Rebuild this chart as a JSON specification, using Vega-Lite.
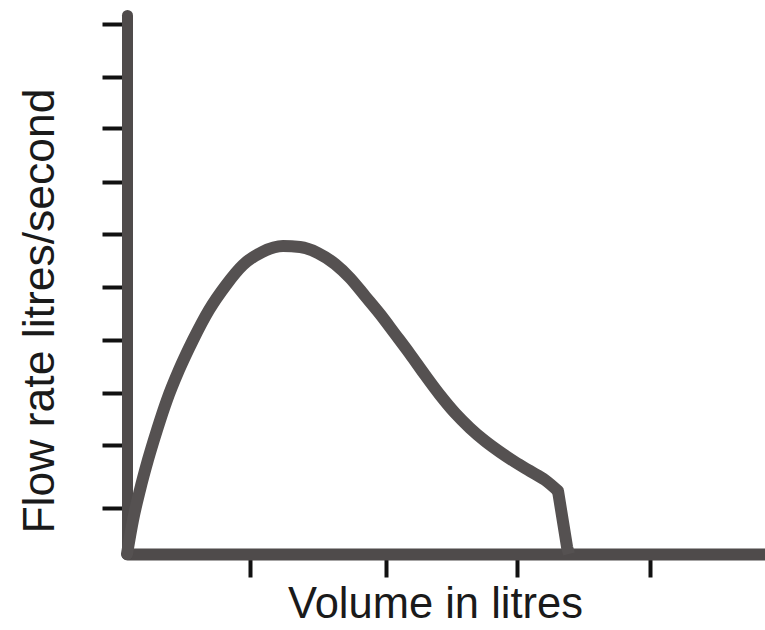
{
  "$schema": "https://vega.github.io/schema/vega-lite/v6.json",
  "width": 638,
  "height": 539,
  "autosize": {"type": "none"},
  "padding": {"left": 127, "top": 15, "right": 0, "bottom": 76},
  "background": "white",
  "config": {"view": {"stroke": null}},
  "data": {
    "values": [
      {"part": "curve", "volume": 0.0, "flow": 0.0},
      {"part": "curve", "volume": 0.046, "flow": 0.642},
      {"part": "curve", "volume": 0.099, "flow": 1.208},
      {"part": "curve", "volume": 0.16, "flow": 1.774},
      {"part": "curve", "volume": 0.229, "flow": 2.34},
      {"part": "curve", "volume": 0.305, "flow": 2.906},
      {"part": "curve", "volume": 0.397, "flow": 3.472},
      {"part": "curve", "volume": 0.504, "flow": 4.038},
      {"part": "curve", "volume": 0.626, "flow": 4.604},
      {"part": "curve", "volume": 0.756, "flow": 5.075},
      {"part": "curve", "volume": 0.885, "flow": 5.453},
      {"part": "curve", "volume": 1.031, "flow": 5.698},
      {"part": "curve", "volume": 1.191, "flow": 5.811},
      {"part": "curve", "volume": 1.321, "flow": 5.792},
      {"part": "curve", "volume": 1.458, "flow": 5.679},
      {"part": "curve", "volume": 1.588, "flow": 5.472},
      {"part": "curve", "volume": 1.702, "flow": 5.208},
      {"part": "curve", "volume": 1.817, "flow": 4.868},
      {"part": "curve", "volume": 1.931, "flow": 4.528},
      {"part": "curve", "volume": 2.046, "flow": 4.151},
      {"part": "curve", "volume": 2.16, "flow": 3.774},
      {"part": "curve", "volume": 2.275, "flow": 3.377},
      {"part": "curve", "volume": 2.389, "flow": 3.0},
      {"part": "curve", "volume": 2.504, "flow": 2.66},
      {"part": "curve", "volume": 2.618, "flow": 2.377},
      {"part": "curve", "volume": 2.733, "flow": 2.132},
      {"part": "curve", "volume": 2.847, "flow": 1.925},
      {"part": "curve", "volume": 2.962, "flow": 1.736},
      {"part": "curve", "volume": 3.076, "flow": 1.566},
      {"part": "curve", "volume": 3.191, "flow": 1.396},
      {"part": "curve", "volume": 3.29, "flow": 1.189},
      {"part": "drop", "volume": 3.29, "flow": 1.189},
      {"part": "drop", "volume": 3.359, "flow": 0.132},
      {"part": "drop", "volume": 3.374, "flow": 0.0}
    ]
  },
  "encoding": {
    "x": {
      "field": "volume",
      "type": "quantitative",
      "scale": {"domain": [0, 4.87], "nice": false, "zero": false},
      "axis": {
        "values": [0.939, 1.977, 2.977, 3.992],
        "labels": false,
        "grid": false,
        "domainColor": "#4f4b4b",
        "domainWidth": 12,
        "domainCap": "round",
        "tickColor": "#111111",
        "tickWidth": 4,
        "tickSize": 23,
        "title": "Volume in litres",
        "titleFont": "Liberation Sans",
        "titleFontSize": 43.5,
        "titleFontWeight": "normal",
        "titleColor": "#1a1a1a",
        "titleAlign": "center",
        "titleBaseline": "alphabetic",
        "titleX": 308,
        "titleY": 63
      }
    },
    "y": {
      "field": "flow",
      "type": "quantitative",
      "scale": {"domain": [0, 10.17], "nice": false},
      "axis": {
        "values": [0.87, 2.06, 3.04, 4.04, 5.04, 6.04, 7.02, 8.04, 9.0, 10.0],
        "labels": false,
        "grid": false,
        "domainColor": "#4f4b4b",
        "domainWidth": 11,
        "domainCap": "round",
        "tickColor": "#111111",
        "tickWidth": 4,
        "tickSize": 25,
        "title": "Flow rate litres/second",
        "titleFont": "Liberation Sans",
        "titleFontSize": 44.5,
        "titleFontWeight": "normal",
        "titleColor": "#1a1a1a",
        "titleAngle": 270,
        "titleAlign": "center",
        "titleBaseline": "alphabetic",
        "titleX": -74,
        "titleY": 295.5
      }
    }
  },
  "layer": [
    {
      "transform": [{"filter": "datum.part === 'curve'"}],
      "mark": {"type": "line", "color": "#555151", "strokeWidth": 12, "strokeJoin": "round", "strokeCap": "round", "interpolate": "monotone", "clip": false}
    },
    {
      "transform": [{"filter": "datum.part === 'drop'"}],
      "mark": {"type": "line", "color": "#555151", "strokeWidth": 12, "strokeJoin": "round", "strokeCap": "butt", "clip": false}
    }
  ]
}
